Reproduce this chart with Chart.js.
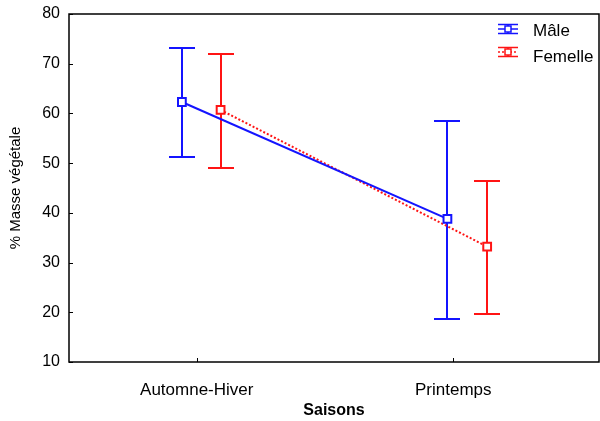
<!DOCTYPE html>
<html><head><meta charset="utf-8">
<script src="https://cdn.jsdelivr.net/npm/chart.js@4/dist/chart.umd.min.js"></script>
<style>html,body{margin:0;padding:0;background:#fff;overflow:hidden}canvas{display:block}</style>
</head><body><canvas id="c" width="600" height="421"></canvas>
<script>
const categories = ['Automne-Hiver', 'Printemps'];
const seriesNames = ['Mâle', 'Femelle'];
const maleMean = [62.3, 38.8];
const maleLow = [51.2, 18.6];
const maleHigh = [73.2, 58.5];
const femaleMean = [60.7, 33.2];
const femaleLow = [49.0, 19.6];
const femaleHigh = [71.9, 46.5];
const yTicks = [10, 20, 30, 40, 50, 60, 70, 80];

// layout of categories on a numeric x axis (not data values)
const categoryPos = [24.1, 72.5];
const maleShift = [-2.8, -1.1];
const femaleShift = [4.5, 6.4];

const BLUE = '#1414ff', RED = '#ff1414';
const FONT = 'Liberation Sans, Arial, sans-serif';

const maleData = maleMean.map((v, i) => ({x: categoryPos[i] + maleShift[i], y: v, lo: maleLow[i], hi: maleHigh[i]}));
const femaleData = femaleMean.map((v, i) => ({x: categoryPos[i] + femaleShift[i], y: v, lo: femaleLow[i], hi: femaleHigh[i]}));

const errorBars = {
  id: 'errorBars',
  beforeDatasetsDraw(chart) {
    const {ctx, scales: {x, y}} = chart;
    chart.data.datasets.forEach(ds => {
      ctx.save();
      ctx.strokeStyle = ds.borderColor;
      ctx.lineWidth = 2;
      ds.data.forEach(p => {
        const px = Math.round(x.getPixelForValue(p.x));
        const yl = Math.round(y.getPixelForValue(p.lo)), yh = Math.round(y.getPixelForValue(p.hi));
        ctx.beginPath();
        ctx.moveTo(px, yl); ctx.lineTo(px, yh);
        ctx.moveTo(px - 13, yl); ctx.lineTo(px + 13, yl);
        ctx.moveTo(px - 13, yh); ctx.lineTo(px + 13, yh);
        ctx.stroke();
      });
      ctx.restore();
    });
  },
  afterDraw(chart) {
    const {ctx, chartArea: a, scales: {x, y}} = chart;
    ctx.save();
    ctx.strokeStyle = '#000';
    ctx.lineWidth = 1.5;
    ctx.strokeRect(a.left, a.top, a.right - a.left, a.bottom - a.top);
    ctx.lineWidth = 1;
    ctx.beginPath();
    yTicks.forEach(t => { const py = Math.round(y.getPixelForValue(t)) + 0.5; ctx.moveTo(a.left, py); ctx.lineTo(a.left + 4, py); });
    categoryPos.forEach(c => { const px = Math.round(x.getPixelForValue(c)) + 0.5; ctx.moveTo(px, a.bottom); ctx.lineTo(px, a.bottom - 4); });
    ctx.stroke();
    // legend
    const items = [
      {name: seriesNames[0], color: BLUE, dash: [], cy: 29, ty: 31},
      {name: seriesNames[1], color: RED, dash: [2, 2], cy: 52, ty: 57}
    ];
    items.forEach(it => {
      const cy = it.cy;
      const x0 = 498, x1 = 518, xm = 508;
      ctx.strokeStyle = it.color;
      ctx.lineWidth = 1.5;
      ctx.beginPath();
      ctx.moveTo(x0, cy - 4.5); ctx.lineTo(x1, cy - 4.5);
      ctx.moveTo(x0, cy + 4.5); ctx.lineTo(x1, cy + 4.5);
      ctx.moveTo(xm, cy - 4.5); ctx.lineTo(xm, cy + 4.5);
      ctx.stroke();
      ctx.setLineDash(it.dash);
      ctx.beginPath();
      ctx.moveTo(x0, cy); ctx.lineTo(x1, cy);
      ctx.stroke();
      ctx.setLineDash([]);
      ctx.fillStyle = '#fff';
      ctx.fillRect(xm - 3, cy - 3, 6, 6);
      ctx.strokeRect(xm - 3, cy - 3, 6, 6);
      ctx.fillStyle = '#000';
      ctx.font = '17px ' + FONT;
      ctx.textBaseline = 'middle';
      ctx.textAlign = 'left';
      ctx.fillText(it.name, 533, it.ty);
    });
    ctx.restore();
  }
};

new Chart(document.getElementById('c'), {
  type: 'line',
  data: {
    datasets: [
      {label: seriesNames[0], data: maleData, borderColor: BLUE, backgroundColor: '#fff', borderWidth: 2,
       pointStyle: 'rect', pointRadius: 5.5, pointBorderWidth: 2, pointBackgroundColor: '#fff', pointBorderColor: BLUE},
      {label: seriesNames[1], data: femaleData, borderColor: RED, backgroundColor: '#fff', borderWidth: 2, borderDash: [2, 2],
       pointStyle: 'rect', pointRadius: 5.5, pointBorderWidth: 2, pointBackgroundColor: '#fff', pointBorderColor: RED}
    ]
  },
  options: {
    responsive: false, animation: false, devicePixelRatio: 1,
    layout: {autoPadding: false, padding: {top: 14, right: 1, left: 0, bottom: 0}},
    plugins: {legend: {display: false}, tooltip: {enabled: false}},
    scales: {
      x: {
        type: 'linear', min: 0, max: 100,
        afterBuildTicks: s => { s.ticks = categoryPos.map(v => ({value: v})); },
        afterFit: s => { s.height = 59; s.paddingLeft = 0; s.paddingRight = 0; },
        grid: {display: false, drawTicks: false},
        border: {display: false},
        ticks: {color: '#000', font: {family: FONT, size: 17}, padding: 18, autoSkip: false, maxRotation: 0,
                callback: (v, i) => categories[i]},
        title: {display: true, text: 'Saisons', color: '#000', font: {family: FONT, size: 16, weight: 'bold'}, padding: {top: 0, bottom: 1}}
      },
      y: {
        min: 10, max: 80,
        afterBuildTicks: s => { s.ticks = yTicks.map(v => ({value: v})); },
        afterFit: s => { s.width = 69; s.paddingTop = 0; s.paddingBottom = 0; },
        grid: {display: false, drawTicks: false},
        border: {display: false},
        ticks: {color: '#000', font: {family: FONT, size: 16}, padding: 9},
        title: {display: true, text: '% Masse végétale', color: '#000', font: {family: FONT, size: 15}, padding: {top: 7, bottom: 0}}
      }
    }
  },
  plugins: [errorBars]
});
</script>
</body></html>
